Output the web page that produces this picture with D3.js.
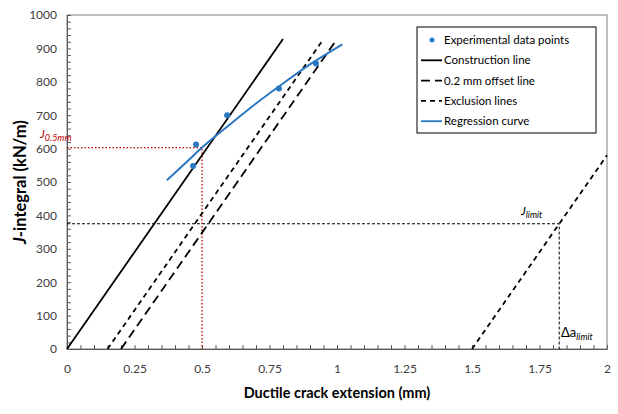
<!DOCTYPE html>
<html><head><meta charset="utf-8">
<script src="https://cdnjs.cloudflare.com/ajax/libs/d3/7.8.5/d3.min.js"></script>
<style>body{margin:0;background:#fff}svg{display:block;font-family:Lato,"Open Sans",sans-serif}</style>
</head><body><svg id="c" width="618" height="414"></svg>
<script>
// data
const expX = [0.467, 0.478, 0.593, 0.785, 0.922];
const expJ = [548, 612, 700, 780, 855];
const regX = [0.37, 0.45, 0.5, 0.6, 0.7, 0.8, 0.9, 1.02];
const regJ = [505, 565, 603, 670, 735, 795, 852, 912];
const constrX = [0, 0.8];
const constrJ = [0, 928];
const offsetX = [0.2, 1.0];
const offsetJ = [0, 928];
const excl1X = [0.15, 0.95];
const excl1J = [0, 928];
const excl2X = [1.5, 2.0];
const excl2J = [0, 580];
const J05 = 603, a05 = 0.5;
const Jlimit = 375, aLimit = 1.823;
const xTicks = [0, 0.25, 0.5, 0.75, 1, 1.25, 1.5, 1.75, 2];
const yTicks = [0, 100, 200, 300, 400, 500, 600, 700, 800, 900, 1000];
const legendLabels = ["Experimental data points","Construction line","0.2 mm offset line","Exclusion lines","Regression curve"];

const svg = d3.select("#c");
const L = 67, R = 607, T = 15, B = 349;
const x = d3.scaleLinear().domain([0, 2]).range([L, R]);
const y = d3.scaleLinear().domain([0, 1000]).range([B, T]);
const blue = "#2b78c2", red = "#c00000";

// frame
svg.append("rect").attr("x", L).attr("y", T).attr("width", R - L).attr("height", B - T)
  .attr("fill", "none").attr("stroke", "#7f7f7f").attr("stroke-width", 1);

// axes
const xa = svg.append("g").attr("transform", `translate(0,${B})`)
  .call(d3.axisBottom(x).tickValues(xTicks).tickFormat(d3.format("~g")).tickSize(0).tickPadding(15));
xa.select(".domain").attr("stroke", "#595959");
xa.selectAll("text").attr("font-size", 12).attr("fill", "#404040").attr("font-family", "Lato,'Open Sans',sans-serif");
const xm = svg.append("g").attr("transform", `translate(0,${B})`)
  .call(d3.axisBottom(x).tickValues(d3.range(0, 2.0001, 0.05)).tickFormat("").tickSize(-4));
xm.select(".domain").remove();
xm.selectAll("line").attr("stroke", "#595959");

const ya = svg.append("g").attr("transform", `translate(${L},0)`)
  .call(d3.axisLeft(y).tickValues(yTicks).tickFormat(d3.format("d")).tickSize(0).tickPadding(10));
ya.select(".domain").attr("stroke", "#595959");
ya.selectAll("text").attr("font-size", 12).attr("fill", "#404040").attr("font-family", "Lato,'Open Sans',sans-serif");
const ym = svg.append("g").attr("transform", `translate(${L},0)`)
  .call(d3.axisLeft(y).tickValues(d3.range(0, 1001, 20)).tickFormat("").tickSize(-4));
ym.select(".domain").remove();
ym.selectAll("line").attr("stroke", "#595959");

const line = d3.line().x(d => x(d[0])).y(d => y(d[1]));
const zip = (a, b) => a.map((v, i) => [v, b[i]]);

// J limit dotted
svg.append("path").attr("d", line([[0, Jlimit], [aLimit, Jlimit], [aLimit, 0]]))
  .attr("fill", "none").attr("stroke", "#000").attr("stroke-width", 1).attr("stroke-dasharray", "3,2");
// J0.5 red dotted
svg.append("path").attr("d", line([[0, J05], [a05, J05], [a05, 0]]))
  .attr("fill", "none").attr("stroke", red).attr("stroke-width", 1.3).attr("stroke-dasharray", "1.5,2");

const lines = [
  [zip(constrX, constrJ), null],
  [zip(offsetX, offsetJ), "9,5"],
  [zip(excl1X, excl1J), "5,4"],
  [zip(excl2X, excl2J), "5,4"]
];
lines.forEach(([pts, dash]) => {
  svg.append("path").attr("d", line(pts)).attr("fill", "none").attr("stroke", "#000")
    .attr("stroke-width", 1.8).attr("stroke-dasharray", dash);
});

svg.append("path").attr("d", line.curve(d3.curveMonotoneX)(zip(regX, regJ)))
  .attr("fill", "none").attr("stroke", blue).attr("stroke-width", 2);

svg.selectAll("circle.pt").data(zip(expX, expJ)).enter().append("circle")
  .attr("cx", d => x(d[0])).attr("cy", d => y(d[1])).attr("r", 3).attr("fill", blue);

// annotations
const t1 = svg.append("text").attr("x", 40).attr("y", y(J05) - 10).attr("fill", red)
  .attr("font-size", 12).attr("font-style", "italic");
t1.append("tspan").text("J");
t1.append("tspan").attr("font-size", 9).attr("dy", 3).text("0.5mm");

const t2 = svg.append("text").attr("x", 521).attr("y", y(Jlimit) - 9).attr("fill", "#000")
  .attr("font-size", 12).attr("font-style", "italic");
t2.append("tspan").text("J");
t2.append("tspan").attr("font-size", 9).attr("dy", 3).text("limit");

const t3 = svg.append("text").attr("x", 561).attr("y", 337).attr("fill", "#000").attr("font-size", 13);
t3.append("tspan").text("Δa");
t3.append("tspan").attr("font-size", 9).attr("dy", 3).attr("font-style", "italic").text("limit");

// axis titles
const yt = svg.append("text").attr("transform", `translate(26,${(T + B) / 2}) rotate(-90)`)
  .attr("text-anchor", "middle").attr("font-size", 16.5).attr("font-weight", "bold").attr("fill", "#000");
yt.append("tspan").attr("font-style", "italic").text("J");
yt.append("tspan").text("-integral (kN/m)");
svg.append("text").attr("x", 337).attr("y", 398).attr("text-anchor", "middle")
  .attr("font-size", 14.5).attr("font-weight", "bold").attr("fill", "#000").text("Ductile crack extension (mm)");

// legend
const lg = svg.append("g");
lg.append("rect").attr("x", 417).attr("y", 27).attr("width", 179).attr("height", 106)
  .attr("fill", "#fff").attr("stroke", "#000").attr("stroke-width", 1);
const dashes = [null, null, "9,5", "5,4", null];
legendLabels.forEach((lab, i) => {
  const cy = 40 + i * 20.3;
  if (i === 0) {
    lg.append("circle").attr("cx", 432).attr("cy", cy).attr("r", 2.5).attr("fill", blue);
  } else {
    lg.append("line").attr("x1", 421).attr("x2", 442).attr("y1", cy).attr("y2", cy)
      .attr("stroke", i === 4 ? blue : "#000").attr("stroke-width", 1.8).attr("stroke-dasharray", dashes[i]);
  }
  lg.append("text").attr("x", 444).attr("y", cy + 4).attr("font-size", 11.5).attr("fill", "#000").text(lab);
});
</script></body></html>
